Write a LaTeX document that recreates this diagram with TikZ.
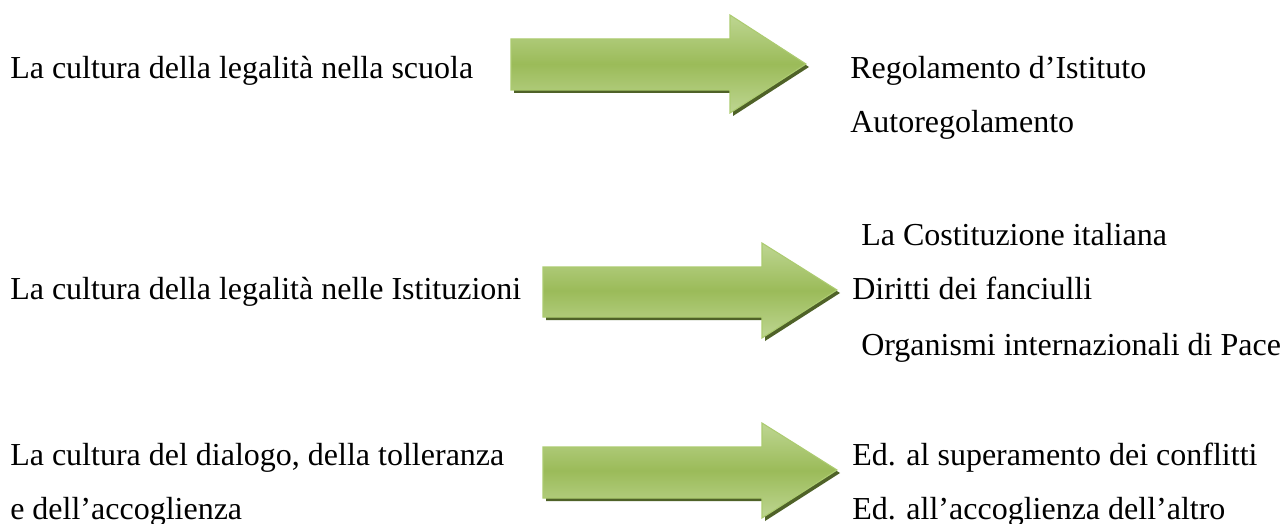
\documentclass[tikz,border=0pt]{standalone}
\usepackage{fontspec}
\setmainfont{Liberation Serif}
\definecolor{gmain}{RGB}{155,187,89}
\definecolor{glight}{RGB}{190,214,146}
\definecolor{gedge}{RGB}{172,203,112}
\definecolor{gshadow}{RGB}{79,98,40}
\tikzset{
  lbl/.style={anchor=base west, inner sep=0pt, font=\fontsize{24}{28}\selectfont},
  arrowbody/.style={top color=glight, bottom color=glight, middle color=gmain, draw=gedge, line width=0.8pt, line join=miter},
  arrowshadow/.style={fill=gshadow, draw=none}
}
% #1 left x, #2 shaft top, #3 shaft bottom, #4 head base x, #5 head top, #6 head bottom, #7 tip x, #8 tip y
\newcommand\greenarrow[8]{%
  \fill[arrowshadow] ([shift={(3,3)}]#1,#2) -- ([shift={(3,3)}]#4,#2) -- ([shift={(3,3)}]#4,#5) -- ([shift={(3,3)}]#7,#8) -- ([shift={(3,3)}]#4,#6) -- ([shift={(3,3)}]#4,#3) -- ([shift={(3,3)}]#1,#3) -- cycle;
  \path[arrowbody] (#1,#2) -- (#4,#2) -- (#4,#5) -- (#7,#8) -- (#4,#6) -- (#4,#3) -- (#1,#3) -- cycle;
}
\begin{document}
\begin{tikzpicture}[x=0.75pt,y=-0.75pt]
\useasboundingbox[fill=white] (0,0) rectangle (1281,524);
% arrows
\greenarrow{511}{39}{90}{730}{15}{113}{806}{64}
\greenarrow{543}{267}{317}{762}{243}{338}{837}{290}
\greenarrow{543}{447}{498}{762}{423}{518}{837}{470}
% left texts
\node[lbl] (s1) at (10,79) {La cultura della legalità nella scuola};
\node[lbl] (s2) at (10,299) {La cultura della legalità nelle Istituzioni};
\node[lbl] (s3a) at (10,465) {La cultura del dialogo, della tolleranza};
\node[lbl] (s3b) at (10,519) {e dell’accoglienza};
% right texts
\node[lbl] (r1a) at (850,79) {Regolamento d’Istituto};
\node[lbl] (r1b) at (850,133) {Autoregolamento};
\node[lbl] (r2a) at (861,245) {La Costituzione italiana};
\node[lbl] (r2b) at (852,299) {Diritti dei fanciulli};
\node[lbl] (r2c) at (861,355) {Organismi internazionali di Pace};
\node[lbl] (r3a) at (852,465) {Ed. al superamento dei conflitti};
\node[lbl] (r3b) at (852,519) {Ed. all’accoglienza dell’altro};
\end{tikzpicture}
\end{document}
